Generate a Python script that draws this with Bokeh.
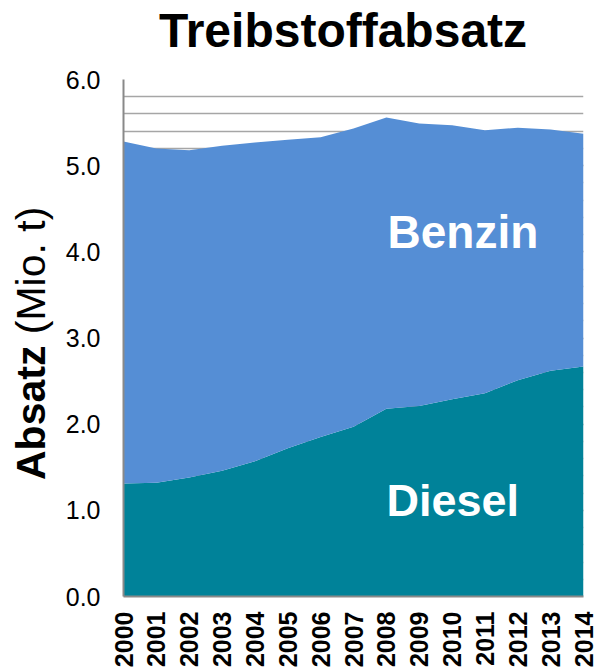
import math
from bokeh.plotting import figure
from bokeh.layouts import column, row
from bokeh.models import (ColumnDataSource, Label, Range1d, SingleIntervalTicker,
                          FixedTicker, NumeralTickFormatter, Div)
from bokeh.embed import file_html
from bokeh.resources import INLINE

years = [2000, 2001, 2002, 2003, 2004, 2005, 2006, 2007, 2008, 2009, 2010, 2011, 2012, 2013, 2014]
diesel = [1.31, 1.32, 1.38, 1.46, 1.57, 1.72, 1.85, 1.97, 2.18, 2.21, 2.29, 2.36, 2.51, 2.62, 2.67]
benzin = [3.97, 3.88, 3.80, 3.77, 3.70, 3.58, 3.48, 3.46, 3.38, 3.28, 3.18, 3.05, 2.93, 2.80, 2.70]
year_labels = [str(y) for y in years]

title_text = "Treibstoffabsatz"
ylabel_bold = "Absatz"
ylabel_normal = "(Mio. t)"

FONT = "Liberation Sans"
BLUE = "#558ED5"
TEAL = "#008299"

src = ColumnDataSource(dict(year=years, diesel=diesel, benzin=benzin))

TITLE_H = 60
YLAB_W = 60
FIG_W = 596 - YLAB_W
FIG_H = 672 - TITLE_H

p = figure(width=FIG_W, height=FIG_H, output_backend="svg", toolbar_location=None,
           x_range=Range1d(2000, 2014), y_range=Range1d(0, 6),
           min_border_left=123 - YLAB_W, min_border_right=13,
           min_border_top=79 - TITLE_H, min_border_bottom=76, margin=0)
p.outline_line_color = None
p.background_fill_color = "white"
p.border_fill_color = "white"

p.varea_stack(stackers=["diesel", "benzin"], x="year", source=src,
              color=[TEAL, BLUE])

# axes
p.yaxis.ticker = SingleIntervalTicker(interval=1, num_minor_ticks=5)
p.yaxis.formatter = NumeralTickFormatter(format="0.0")
p.yaxis.major_label_text_font = FONT
p.yaxis.major_label_text_font_size = "25px"
p.yaxis.major_label_text_color = "black"
p.yaxis.major_label_standoff = 23
p.yaxis.major_tick_out = 0
p.yaxis.major_tick_in = 0
p.yaxis.minor_tick_out = 0
p.yaxis.minor_tick_in = 0
p.yaxis.axis_line_color = "#898989"
p.yaxis.axis_line_width = 2

p.xaxis.ticker = FixedTicker(ticks=years)
p.xaxis.major_label_overrides = {y: s for y, s in zip(years, year_labels)}
p.xaxis.major_label_orientation = math.pi / 2
p.xaxis.major_label_text_font = FONT
p.xaxis.major_label_text_font_size = "25px"
p.xaxis.major_label_text_font_style = "bold"
p.xaxis.major_label_text_color = "black"
p.xaxis.major_label_standoff = 15
p.xaxis.major_tick_out = 0
p.xaxis.major_tick_in = 0
p.xaxis.minor_tick_out = 0
p.xaxis.minor_tick_in = 0
p.xaxis.axis_line_color = "#898989"
p.xaxis.axis_line_width = 2

p.xgrid.grid_line_color = None
p.ygrid.grid_line_color = "#A6A6A6"
p.ygrid.grid_line_width = 1.5
p.ygrid.minor_grid_line_color = "#A6A6A6"
p.ygrid.minor_grid_line_width = 1.5

# series labels
p.add_layout(Label(x=264, y=365, x_units="screen", y_units="screen", text="Benzin",
                   text_font=FONT, text_font_size="46px", text_font_style="bold",
                   text_align="left", text_baseline="alphabetic", text_color="white"))
p.add_layout(Label(x=263, y=96, x_units="screen", y_units="screen", text="Diesel",
                   text_font=FONT, text_font_size="45px", text_font_style="bold",
                   text_align="left", text_baseline="alphabetic", text_color="white"))

# title (HTML)
title_div = Div(
    text=(f'<div style="position:absolute; left:159px; top:7px; white-space:nowrap; '
          f'font-family:\'{FONT}\'; font-size:48px; line-height:48px; font-weight:bold; '
          f'color:black;">{title_text}</div>'),
    width=596, height=TITLE_H, margin=0, styles={"overflow": "visible"})

# y-axis label (HTML, rotated)
ylab_div = Div(
    text=(f'<div style="position:absolute; left:11px; top:{480 - TITLE_H}px; '
          f'transform-origin:0 0; transform:rotate(-90deg); white-space:nowrap; '
          f'font-family:\'{FONT}\'; font-size:41px; line-height:41px; color:black;">'
          f'<b>{ylabel_bold}</b> {ylabel_normal}</div>'),
    width=YLAB_W, height=FIG_H, margin=0, styles={"overflow": "visible"})

layout = column(title_div, row(ylab_div, p, spacing=0, margin=0), spacing=0, margin=0)

open("out.html", "w").write(file_html(layout, INLINE))
